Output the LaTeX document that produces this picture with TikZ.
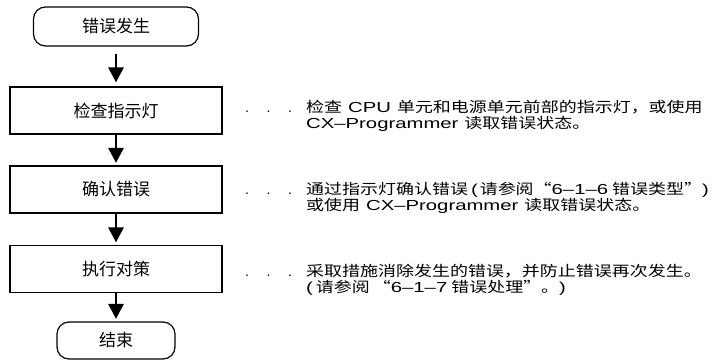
\documentclass[tikz,border=0pt]{standalone}
\usepackage{fontspec}
\setmainfont{Liberation Sans}
\newfontfamily\cjkd[FakeStretch=1.24]{Noto Sans CJK SC}
\newfontfamily\latd[FakeStretch=1.4]{Liberation Sans}
\newfontfamily\cjkb{Noto Sans CJK SC}
\usetikzlibrary{arrows.meta}
\newcommand\Cj[1]{{\cjkd #1}}
\newcommand\Sp[1][9pt]{\hspace{#1}}
\tikzset{
  proc/.style={draw, line width=1.2pt, minimum width=212pt, minimum height=47pt, inner sep=0pt,
    font=\cjkb\fontsize{17}{20}\selectfont},
  term/.style={proc, rounded corners=12pt, minimum height=39pt},
  flowarrow/.style={line width=2.8pt, -{Triangle[length=15pt,width=15pt]}},
  desc/.style={anchor=base west, inner sep=0pt, font=\latd\fontsize{14.5}{14.5}\selectfont},
  dots/.style={anchor=base west, inner sep=0pt, font=\fontsize{14}{14}\selectfont}
}
\begin{document}
\begin{tikzpicture}[x=1pt,y=1pt]
\useasboundingbox (0,0) rectangle (717,-361);
\node[term, minimum width=165pt] (start) at (116,-26.5) {错误发生};
\node[proc] (b1) at (116,-110.5) {检查指示灯};
\node[proc] (b2) at (116,-189.5) {确认错误};
\node[proc] (b3) at (116,-269) {执行对策};
\node[term, minimum width=118pt, minimum height=37pt] (end) at (116,-340.5) {结束};

\draw[flowarrow, shorten <=7pt, shorten >=4pt] (start) -- (b1);
\draw[flowarrow, shorten >=2.5pt] (b1) -- (b2);
\draw[flowarrow, shorten >=2.5pt] (b2) -- (b3);
\draw[flowarrow, shorten >=2.5pt] (b3) -- (end);

\node[dots] (d1) at (245,-112) {.\hspace{17.6pt}.\hspace{17.6pt}.};
\node[desc] (t1a) at (306,-112) {\Cj{检查}\Sp[6pt]CPU\Sp[6pt]\Cj{单元和电源单元前部的指示灯，或使用}};
\node[desc] (t1b) at (306,-128.5) {CX–Programmer\Sp[6pt]\Cj{读取错误状态。}};

\node[dots] (d2) at (245,-194) {.\hspace{17.6pt}.\hspace{17.6pt}.};
\node[desc] (t2a) at (306,-194) {\Cj{通过指示灯确认错误}\Sp[3pt](\Sp[2pt]\Cj{请参阅“}6–1–6\Sp[4pt]\Cj{错误类型”})};
\node[desc] (t2b) at (306,-210.5) {\Cj{或使用}\Sp[6pt]CX–Programmer\Sp[6pt]\Cj{读取错误状态。}};

\node[dots] (d3) at (245,-276) {.\hspace{17.6pt}.\hspace{17.6pt}.};
\node[desc] (t3a) at (306,-276) {\Cj{采取措施消除发生的错误，并防止错误再次发生。}};
\node[desc] (t3b) at (306,-292.5) {(\Sp[3pt]\Cj{请参阅\hspace{3pt}“}6–1–7\Sp[4pt]\Cj{错误处理”。})};
\end{tikzpicture}
\end{document}
